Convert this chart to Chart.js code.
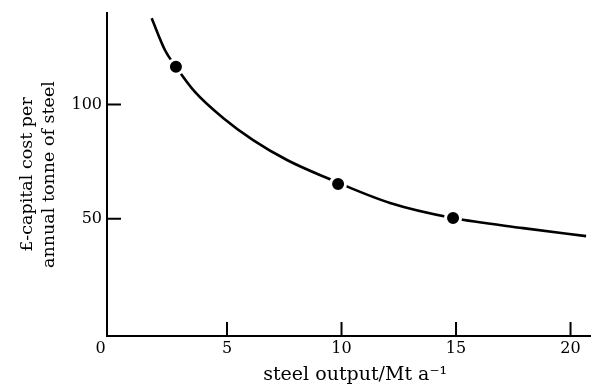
<!DOCTYPE html>
<html>
<head>
<meta charset="utf-8">
<script src="https://cdn.jsdelivr.net/npm/chart.js@4.4.1/dist/chart.umd.min.js"></script>
<style>
  body { margin: 0; background: #fff; }
  #wrap { width: 592px; height: 390px; }
</style>
</head>
<body>
<div id="wrap"><canvas id="costChart" width="592" height="390"></canvas></div>
<script>
// Data
const curveOutput = [1.71, 2.3, 2.77, 3.6, 4.83, 6.14, 7.62, 9.37, 12.12, 14.87, 17.93, 20.68];
const curveCost = [137.7, 123.6, 116.5, 105.5, 94.1, 84.4, 75.7, 67.8, 56.9, 50.3, 45.9, 42.4];
const plantOutput = [2.77, 9.85, 14.87];
const plantCost = [116.5, 65.2, 50.3];
const xTicks = [0, 5, 10, 15, 20];
const yTicks = [50, 100];

const serif = 'DejaVu Serif';

// inward tick marks like the printed figure
const innerTicks = {
    id: 'innerTicks',
    afterDraw(chart) {
        const ctx = chart.ctx;
        const xs = chart.scales.x, ys = chart.scales.y;
        ctx.save();
        ctx.strokeStyle = '#000';
        ctx.lineWidth = 2;
        ctx.beginPath();
        xTicks.filter(v => v > 0).forEach(v => {
            const px = xs.getPixelForValue(v);
            ctx.moveTo(px, xs.top);
            ctx.lineTo(px, xs.top - 14);
        });
        yTicks.forEach(v => {
            const py = ys.getPixelForValue(v);
            ctx.moveTo(ys.right, py);
            ctx.lineTo(ys.right + 14, py);
        });
        ctx.stroke();
        ctx.restore();
    }
};

new Chart(document.getElementById('costChart'), {
    type: 'scatter',
    data: {
        datasets: [{
            data: plantOutput.map((x, i) => ({ x: x, y: plantCost[i] })),
            pointRadius: 7.5,
            pointBackgroundColor: '#000',
            pointBorderColor: '#fff',
            pointBorderWidth: 3,
            showLine: false
        }, {
            data: curveOutput.map((x, i) => ({ x: x, y: curveCost[i] })),
            showLine: true,
            borderColor: '#000',
            borderWidth: 2.6,
            pointRadius: 0,
            cubicInterpolationMode: 'monotone'
        }]
    },
    options: {
        responsive: false,
        animation: false,
        layout: { autoPadding: false, padding: { top: 13, right: 2, left: 0, bottom: 0 } },
        plugins: { legend: { display: false }, tooltip: { enabled: false } },
        scales: {
            x: {
                type: 'linear',
                min: -0.24,
                max: 20.85,
                afterBuildTicks: s => { s.ticks = xTicks.map(v => ({ value: v })); },
                afterFit: s => { s.height = 54; s.paddingLeft = 0; s.paddingRight = 0; },
                grid: { drawOnChartArea: false, drawTicks: false },
                border: { display: true, color: '#000', width: 2 },
                ticks: {
                    padding: 3,
                    color: '#000',
                    font: { family: serif, size: 16 },
                    callback: v => v === 0 ? '0\u2002\u2002\u2002' : String(v)
                },
                title: {
                    display: true,
                    text: '\u2002\u2009steel output/Mt a\u207B\u00B9',
                    color: '#000',
                    font: { family: serif, size: 19 },
                    padding: { top: 0, bottom: 4 }
                }
            },
            y: {
                type: 'linear',
                min: -1.3,
                max: 140,
                afterBuildTicks: s => { s.ticks = yTicks.map(v => ({ value: v })); },
                afterFit: s => { s.width = 107; s.paddingTop = 0; s.paddingBottom = 0; },
                grid: { drawOnChartArea: false, drawTicks: false },
                border: { display: true, color: '#000', width: 2 },
                ticks: {
                    padding: 5,
                    color: '#000',
                    font: { family: serif, size: 16 }
                },
                title: {
                    display: true,
                    text: ['\u00A3-capital cost per', 'annual tonne of steel'],
                    color: '#000',
                    font: { family: serif, size: 17.5, lineHeight: 1.26 },
                    padding: { top: 16, bottom: 0 }
                }
            }
        }
    },
    plugins: [innerTicks]
});
</script>
</body>
</html>
